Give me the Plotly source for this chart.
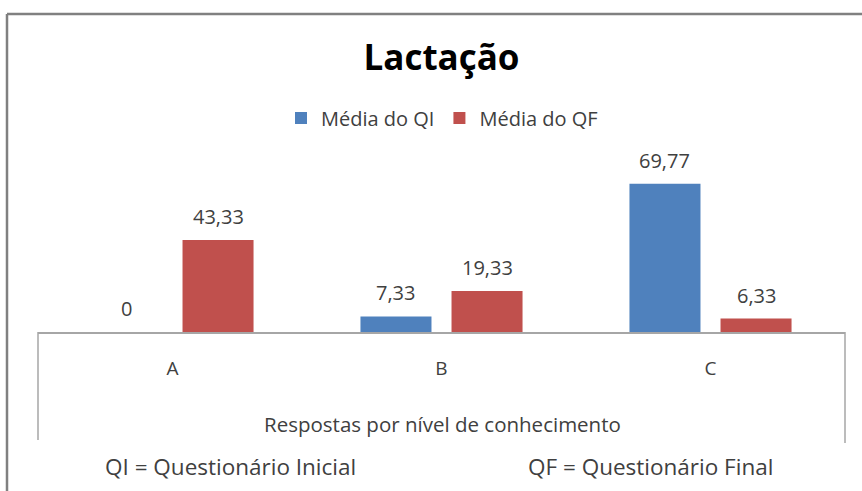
import plotly.graph_objects as go

categories = ["A", "B", "C"]
series_names = ["Média do QI", "Média do QF"]
qi_values = [0, 7.33, 69.77]
qf_values = [43.33, 19.33, 6.33]
colors = ["#4F81BD", "#C0504D"]

title_text = "Lactação"
axis_title = "Respostas por nível de conhecimento"
note_left = "QI = Questionário Inicial"
note_right = "QF = Questionário Final"

W, H = 862, 491
ML, MR, MT, MB = 38, 17, 162, 159
YMAX = 80
BARGAP, GROUPGAP = 0.323, 0.22
FONT = "Open Sans"


def fmt(v):
    s = f"{v:.2f}".replace(".", ",")
    if s.endswith(",00"):
        s = s[:-3]
    return s


fig = go.Figure()
for name, vals, col in zip(series_names, [qi_values, qf_values], colors):
    fig.add_trace(go.Bar(x=categories, y=vals, name=name, marker_color=col,
                         marker_line_width=0))

plot_w = W - ML - MR
cat_w = plot_w / len(categories)
slot = cat_w * (1 - BARGAP) / 2

annotations = []
for i, vals in enumerate([qi_values, qf_values]):
    shift = (i - 0.5) * slot
    for c, v in zip(categories, vals):
        annotations.append(dict(x=c, y=v, xref="x", yref="y", text=fmt(v),
                                showarrow=False, yanchor="bottom", yshift=8,
                                xshift=shift, xanchor="center",
                                font=dict(family=FONT, size=20, color="#404040")))


def py(pix):
    # pixel y (from top) -> paper y
    return (H - MB - pix) / (H - MT - MB)


def px(pix):
    return (pix - ML) / plot_w


for txt, x, y, size in [(axis_title, 442, 424, 20.5),
                        (note_left, 230, 466, 22.5),
                        (note_right, 650, 466, 22.5)]:
    annotations.append(dict(x=px(x), y=py(y), xref="paper", yref="paper",
                            text=txt, showarrow=False, xanchor="center", yanchor="middle",
                            font=dict(family=FONT, size=size, color="#404040")))

shapes = [
    # category axis box sides
    dict(type="line", xref="paper", yref="paper", x0=0, x1=0, y0=0, y1=py(440),
         line=dict(color="#A6A6A6", width=1.5)),
    dict(type="line", xref="paper", yref="paper", x0=1, x1=1, y0=0, y1=py(443),
         line=dict(color="#A6A6A6", width=1.5)),
    # outer chart border
    dict(type="line", xref="paper", yref="paper", x0=px(7), x1=px(7), y0=py(14), y1=py(495),
         line=dict(color="#808080", width=2.5)),
    dict(type="line", xref="paper", yref="paper", x0=px(7), x1=px(870), y0=py(14), y1=py(14),
         line=dict(color="#808080", width=2.5)),
]

fig.update_layout(
    width=W, height=H,
    margin=dict(l=ML, r=MR, t=MT, b=MB, autoexpand=False),
    paper_bgcolor="white", plot_bgcolor="white",
    barmode="group", bargap=BARGAP, bargroupgap=GROUPGAP,
    title=dict(text=f"<b>{title_text}</b>", x=0.5, xref="paper", xanchor="center",
               y=1 - 58 / H, yanchor="middle",
               font=dict(family=FONT, size=35, color="black")),
    legend=dict(orientation="h", x=px(442), xref="paper", xanchor="center",
                y=py(118), yanchor="middle", font=dict(family=FONT, size=20, color="#404040"),
                itemwidth=30, bgcolor="rgba(0,0,0,0)", traceorder="normal"),
    xaxis=dict(showline=True, linecolor="#A6A6A6", linewidth=1.5, ticks="",
               tickfont=dict(family=FONT, size=19, color="#404040"),
               ticklabelstandoff=18, showgrid=False, zeroline=False),
    yaxis=dict(range=[0, YMAX], visible=False, showgrid=False, zeroline=False),
    annotations=annotations,
    shapes=shapes,
    showlegend=True,
)

fig.write_html("out.html", config={"displayModeBar": False},
               post_script="document.body.style.margin='0';document.body.style.padding='0';")
